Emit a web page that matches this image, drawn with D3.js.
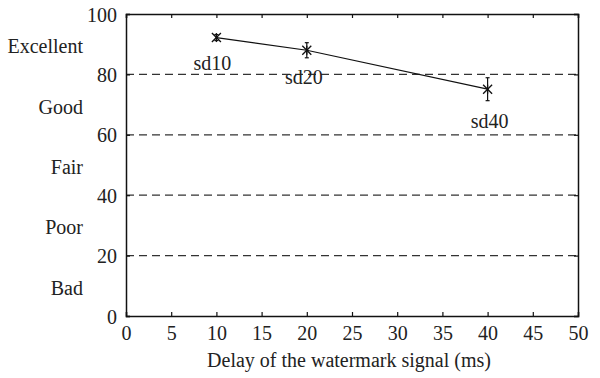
<!DOCTYPE html>
<html><head><meta charset="utf-8">
<script src="https://cdn.jsdelivr.net/npm/d3@7"></script>
<style>body{margin:0;background:#fff}svg{display:block}</style>
</head><body><svg id="c" width="600" height="378"></svg>
<script>
const delays = [10, 20, 40];
const scores = [92.2, 88.0, 75.1];
const errors = [1.0, 2.5, 3.8];
const pointLabels = ["sd10", "sd20", "sd40"];
const xTicks = [0,5,10,15,20,25,30,35,40,45,50];
const yTicks = [0,20,40,60,80,100];
const gridLevels = [20,40,60,80];
const qualityLabels = ["Bad","Poor","Fair","Good","Excellent"];
const qualityCenters = [10,30,50,70,90];

const svg = d3.select("#c");
const L=126, R=578, T=14, B=316;
const x = d3.scaleLinear().domain([0,50]).range([L,R]);
const y = d3.scaleLinear().domain([0,100]).range([B,T]);
const fs = 20;

svg.selectAll(".grid").data(gridLevels).enter().append("line")
  .attr("x1",L).attr("x2",R).attr("y1",d=>y(d)).attr("y2",d=>y(d))
  .attr("stroke","#333").attr("stroke-width",1.2).attr("stroke-dasharray","8,5");

const xb = svg.append("g").attr("transform",`translate(0,${B})`)
  .call(d3.axisBottom(x).tickValues(xTicks).tickSize(-4).tickPadding(10));
const xt = svg.append("g").attr("transform",`translate(0,${T})`)
  .call(d3.axisTop(x).tickValues(xTicks).tickSize(-4).tickFormat(""));
const yl = svg.append("g").attr("transform",`translate(${L},0)`)
  .call(d3.axisLeft(y).tickValues(yTicks).tickSize(-4).tickPadding(9));
const yr = svg.append("g").attr("transform",`translate(${R},0)`)
  .call(d3.axisRight(y).tickValues(yTicks).tickSize(-4).tickFormat(""));
[xb,xt,yl,yr].forEach(g=>{
  g.attr("font-family",null).attr("font-size",null);
  g.select(".domain").attr("stroke","#111").attr("stroke-width",1.5);
  g.selectAll(".tick line").attr("stroke","#111").attr("stroke-width",1.2);
});
yl.selectAll(".tick text").attr("dy","0.35em");

svg.selectAll(".q").data(qualityLabels).enter().append("text")
  .attr("x",83).attr("y",(d,i)=>y(qualityCenters[i])+9)
  .attr("text-anchor","end").text(d=>d);

const pts = delays.map((d,i)=>({x:d,y:scores[i],e:errors[i],l:pointLabels[i]}));
svg.append("path").datum(pts)
  .attr("d",d3.line().x(d=>x(d.x)).y(d=>y(d.y)))
  .attr("fill","none").attr("stroke","#111").attr("stroke-width",1.2);

const eb = svg.selectAll(".eb").data(pts).enter().append("g");
eb.append("line").attr("x1",d=>x(d.x)).attr("x2",d=>x(d.x))
  .attr("y1",d=>y(d.y+d.e)).attr("y2",d=>y(d.y-d.e));
eb.append("line").attr("x1",d=>x(d.x)-2).attr("x2",d=>x(d.x)+2)
  .attr("y1",d=>y(d.y+d.e)).attr("y2",d=>y(d.y+d.e));
eb.append("line").attr("x1",d=>x(d.x)-2).attr("x2",d=>x(d.x)+2)
  .attr("y1",d=>y(d.y-d.e)).attr("y2",d=>y(d.y-d.e));
eb.selectAll("line").attr("stroke","#111").attr("stroke-width",1.2);

const m = svg.selectAll(".m").data(pts).enter().append("g")
  .attr("transform",d=>`translate(${x(d.x)},${y(d.y)})`);
const s=4.5;
m.append("line").attr("x1",-s).attr("x2",s).attr("y1",-s).attr("y2",s);
m.append("line").attr("x1",-s).attr("x2",s).attr("y1",s).attr("y2",-s);
m.append("line").attr("x1",0).attr("x2",0).attr("y1",-s).attr("y2",s);
m.selectAll("line").attr("stroke","#111").attr("stroke-width",1.3);

const lblOff = [{dx:-4,dy:32},{dx:-3,dy:34},{dx:2,dy:39}];
svg.selectAll(".pl").data(pts).enter().append("text")
  .attr("x",(d,i)=>x(d.x)+lblOff[i].dx).attr("y",(d,i)=>y(d.y)+lblOff[i].dy)
  .attr("text-anchor","middle").text(d=>d.l);

svg.append("text").attr("x",(L+R)/2-3).attr("y",367).attr("text-anchor","middle")
  .text("Delay of the watermark signal (ms)");

svg.selectAll("text").style("font-family","'Liberation Serif'").style("font-size",fs+"px").style("fill","#222");
</script></body></html>
